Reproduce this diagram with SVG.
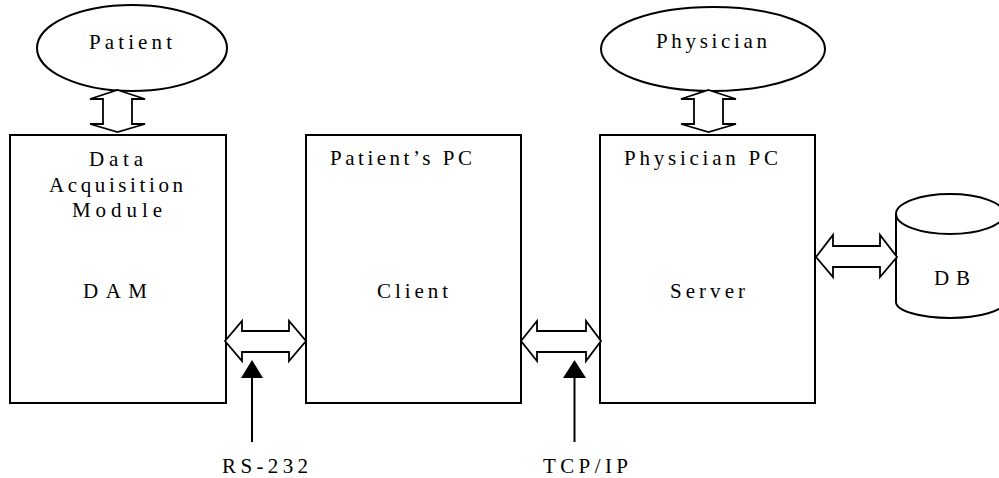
<svg xmlns="http://www.w3.org/2000/svg" width="999" height="478" viewBox="0 0 999 478">
<style>
.s{fill:#fff;stroke:#000;stroke-width:2}
.a{fill:#fff;stroke:#000;stroke-width:1.8;stroke-linejoin:miter}
</style>
<rect width="999" height="478" fill="#fff"/>
<g font-family="Liberation Serif, Times New Roman, serif" font-size="21" fill="#000">
<g id="patient"><ellipse class="s" cx="132" cy="48" rx="95" ry="43"/><text x="89" y="49" textLength="83" lengthAdjust="spacing">Patient</text></g>
<g id="physician"><ellipse class="s" cx="713" cy="49" rx="112" ry="42"/><text x="656" y="48" textLength="111" lengthAdjust="spacing">Physician</text></g>
<g id="dam"><rect class="s" x="10" y="135" width="216" height="268"/>
<text x="89" y="166" textLength="54" lengthAdjust="spacing">Data</text>
<text x="49" y="192" textLength="134" lengthAdjust="spacing">Acquisition</text>
<text x="72" y="217" textLength="90" lengthAdjust="spacing">Module</text>
<text x="83" y="298" textLength="64" lengthAdjust="spacing">DAM</text></g>
<g id="client"><rect class="s" x="306" y="135" width="215" height="268"/>
<text x="330" y="165" textLength="142" lengthAdjust="spacing">Patient’s PC</text>
<text x="377" y="298" textLength="71" lengthAdjust="spacing">Client</text></g>
<g id="server"><rect class="s" x="600" y="135" width="215" height="268"/>
<text x="624" y="165" textLength="154" lengthAdjust="spacing">Physician PC</text>
<text x="670" y="298" textLength="75" lengthAdjust="spacing">Server</text></g>
<g id="db"><path class="s" d="M896,214 L896,302 A54,16 0 0 0 1004,302 L1004,214"/><ellipse class="s" cx="950" cy="214" rx="54" ry="20"/>
<text x="934" y="285" textLength="36" lengthAdjust="spacing">DB</text></g>
<g id="connectors">
<polygon class="a" points="117.5,90 145,99 132,99 132,124 145,124 117.5,132 90,124 103,124 103,99 90,99"/>
<polygon class="a" points="708.5,90 736,99 723,99 723,124 736,124 708.5,132 681,124 694,124 694,99 681,99"/>
<polygon class="a" points="225,341 242,321 242,331 289,331 289,321 306,341 289,361 289,352 242,352 242,361"/>
<polygon class="a" points="521,341 537,321 537,331 586,331 586,321 601,341 586,361 586,352 537,352 537,361"/>
<polygon class="a" points="816,257 833,235 833,246 880,246 880,235 897,257 880,277 880,267 833,267 833,277"/>
<line x1="252" y1="376" x2="252" y2="442" stroke="#000" stroke-width="2"/>
<polygon points="252,360 263,378 241,378" fill="#000"/>
<line x1="574.5" y1="376" x2="574.5" y2="442" stroke="#000" stroke-width="2"/>
<polygon points="574.5,360 586,378 563,378" fill="#000"/>
</g>
<g id="labels">
<text x="222" y="473" textLength="86" lengthAdjust="spacing">RS-232</text>
<text x="543" y="473" textLength="85" lengthAdjust="spacing">TCP/IP</text>
</g>
</g>
</svg>
